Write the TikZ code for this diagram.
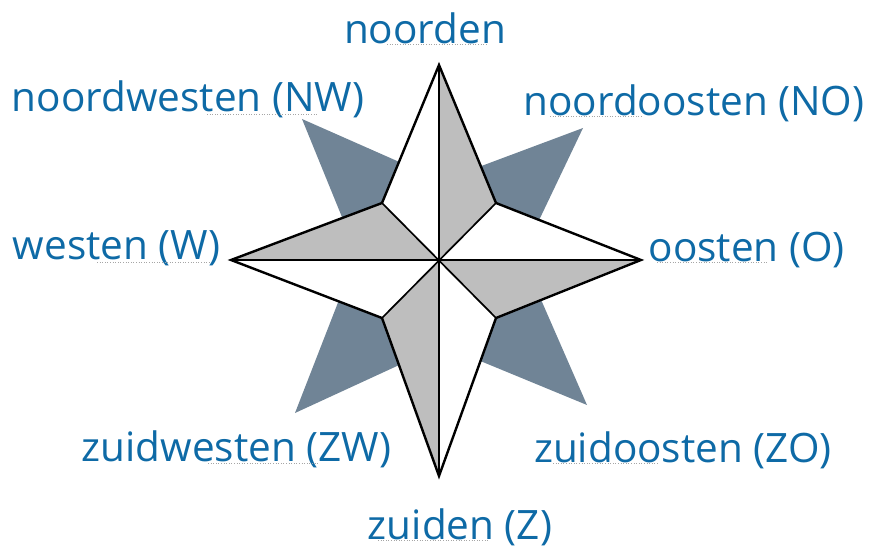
\documentclass[tikz,border=0pt]{standalone}
\usepackage{fontspec}
\setmainfont{Open Sans}
\usetikzlibrary{calc}
\definecolor{txtblue}{RGB}{14,106,166}
\definecolor{armdark}{RGB}{112,132,150}
\definecolor{armgray}{RGB}{190,190,190}
\tikzset{
  lbl/.style={inner sep=0pt, anchor=base, text=txtblue, font=\fontsize{40.5}{45}\selectfont},
  darkarm/.style={fill=armdark, draw=none},
  halfw/.style={fill=white, draw=none},
  halfg/.style={fill=armgray, draw=none},
  outline/.style={draw=black, line width=2.4pt, line join=miter},
  inner/.style={draw=black, line width=1.7pt},
  uline/.style={draw=gray!70, dotted, line width=0.6pt}
}
\begin{document}
\begin{tikzpicture}[x=1pt,y=-1pt]
\useasboundingbox (0,0) rectangle (869,548);
% star coordinates
\coordinate (C) at (439,260);
\coordinate (N) at (439,65);
\coordinate (S) at (439,476);
\coordinate (W) at (231,260);
\coordinate (E) at (641,260);
\coordinate (NW) at (382,203);
\coordinate (NE) at (496,203);
\coordinate (SE) at (496,318);
\coordinate (SW) at (382,318);
% dark diagonal arms
\coordinate (tNW) at (302,119);
\coordinate (tNE) at (583,128);
\coordinate (tSE) at (587,405);
\coordinate (tSW) at (295,413);
\foreach \t in {tNW,tNE,tSE,tSW}{
  \fill[darkarm] (\t) -- ($(\t)!125pt!22:(C)$) -- (C) -- ($(\t)!125pt!-22:(C)$) -- cycle;
}
% star halves
\fill[halfw] (C) -- (N) -- (NW) -- cycle;
\fill[halfg] (C) -- (N) -- (NE) -- cycle;
\fill[halfw] (C) -- (NE) -- (E) -- cycle;
\fill[halfg] (C) -- (E) -- (SE) -- cycle;
\fill[halfw] (C) -- (SE) -- (S) -- cycle;
\fill[halfg] (C) -- (S) -- (SW) -- cycle;
\fill[halfw] (C) -- (SW) -- (W) -- cycle;
\fill[halfg] (C) -- (W) -- (NW) -- cycle;
% inner lines
\draw[inner] (N) -- (S);
\draw[inner] (W) -- (E);
\draw[inner] (NW) -- (SE);
\draw[inner] (NE) -- (SW);
% outline
\draw[outline] (N) -- (NE) -- (E) -- (SE) -- (S) -- (SW) -- (W) -- (NW) -- cycle;
\fill (C) circle (2.6pt);
% labels
\node[lbl] (lN)  at (425,43.3)  {noorden};
\node[lbl] (lNW) at (188,112)   {noordwesten (NW)};
\node[lbl] (lNO) at (694,116) {noordoosten (NO)};
\node[lbl] (lW)  at (116.7,259) {westen (W)};
\node[lbl] (lO)  at (746.7,261) {oosten (O)};
\node[lbl] (lZW) at (236.5,461.5) {zuidwesten (ZW)};
\node[lbl] (lZO) at (683,462) {zuidoosten (ZO)};
\node[lbl] (lZ)  at (460,539) {zuiden (Z)};
% faint dotted underlines
\draw[uline] (387,44.5) -- (487,44.5);
\draw[uline] (207,114.5) -- (318,114.5);
\draw[uline] (550,116) -- (643,116);
\draw[uline] (97,262.5) -- (210,262.5);
\draw[uline] (657,262.5) -- (768,262.5);
\draw[uline] (208,463) -- (318,463);
\draw[uline] (553,463) -- (658,463);
\draw[uline] (378,540.5) -- (488,540.5);
\end{tikzpicture}
\end{document}
